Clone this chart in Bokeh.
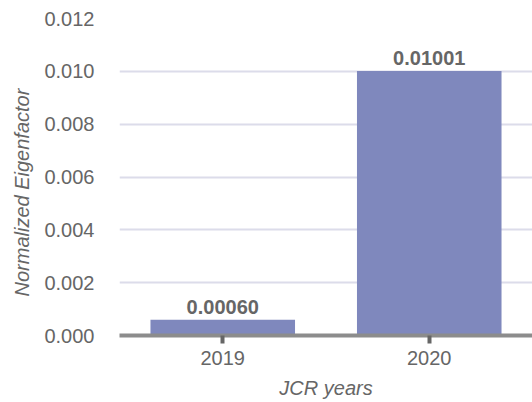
from bokeh.plotting import figure
from bokeh.models import ColumnDataSource, FixedTicker, FactorRange, Range1d, PrintfTickFormatter, Title
from bokeh.core.properties import value
from bokeh.embed import file_html
from bokeh.resources import INLINE

years = ["2019", "2020"]
eigenfactor = [0.00060, 0.01001]
bar_labels = ["0.00060", "0.01001"]
y_ticks = [0.000, 0.002, 0.004, 0.006, 0.008, 0.010, 0.012]
grid_ticks = [0.002, 0.004, 0.006, 0.008, 0.010]

FONT = "Liberation Sans"
TXT = "#666666"
FS = "20px"

src = ColumnDataSource(dict(year=years, val=eigenfactor, lab=bar_labels))

p = figure(width=532, height=402, output_backend="svg", toolbar_location=None,
           x_range=FactorRange(*years, range_padding=0),
           y_range=Range1d(0, 0.012),
           min_border_left=119, min_border_right=0, min_border_top=18,
           min_border_bottom=67)
p.outline_line_color = None
p.background_fill_color = "white"
p.border_fill_color = "white"

p.vbar(x="year", top="val", width=0.7, source=src, fill_color="#7f88bd",
       line_color=None)
p.text(x="year", y="val", text="lab", source=src, text_align="center",
       text_baseline="bottom", y_offset=-6, text_font=value(FONT),
       text_font_size=FS, text_font_style="bold", text_color=TXT)

p.xgrid.visible = False
p.ygrid.ticker = FixedTicker(ticks=grid_ticks)
p.ygrid.grid_line_color = "#dcdcea"
p.ygrid.grid_line_width = 2

ya = p.yaxis[0]
ya.ticker = FixedTicker(ticks=y_ticks)
ya.formatter = PrintfTickFormatter(format="%.3f")
ya.axis_line_color = None
ya.major_tick_line_color = None
ya.minor_tick_line_color = None
ya.major_tick_out = 0
ya.major_tick_in = 0
ya.major_label_standoff = 25
ya.major_label_text_font = FONT
ya.major_label_text_font_size = FS
ya.major_label_text_color = TXT

ytitle = Title(text="Normalized Eigenfactor", align="left", offset=39,
               text_font=FONT, text_font_size=FS, text_font_style="italic",
               text_color=TXT, standoff=17)
p.add_layout(ytitle, "left")

xa = p.xaxis[0]
xa.axis_line_color = "#8c8c8c"
xa.axis_line_width = 4
xa.major_tick_line_color = "#666666"
xa.major_tick_line_width = 4
xa.major_tick_out = 8
xa.major_tick_in = 0
xa.major_label_standoff = 7
xa.major_label_text_font = FONT
xa.major_label_text_font_size = FS
xa.major_label_text_color = TXT
xa.axis_label = "JCR years"
xa.axis_label_text_font = FONT
xa.axis_label_text_font_size = FS
xa.axis_label_text_font_style = "italic"
xa.axis_label_text_color = TXT
xa.axis_label_standoff = 9

open("out.html", "w").write(file_html(p, INLINE))
